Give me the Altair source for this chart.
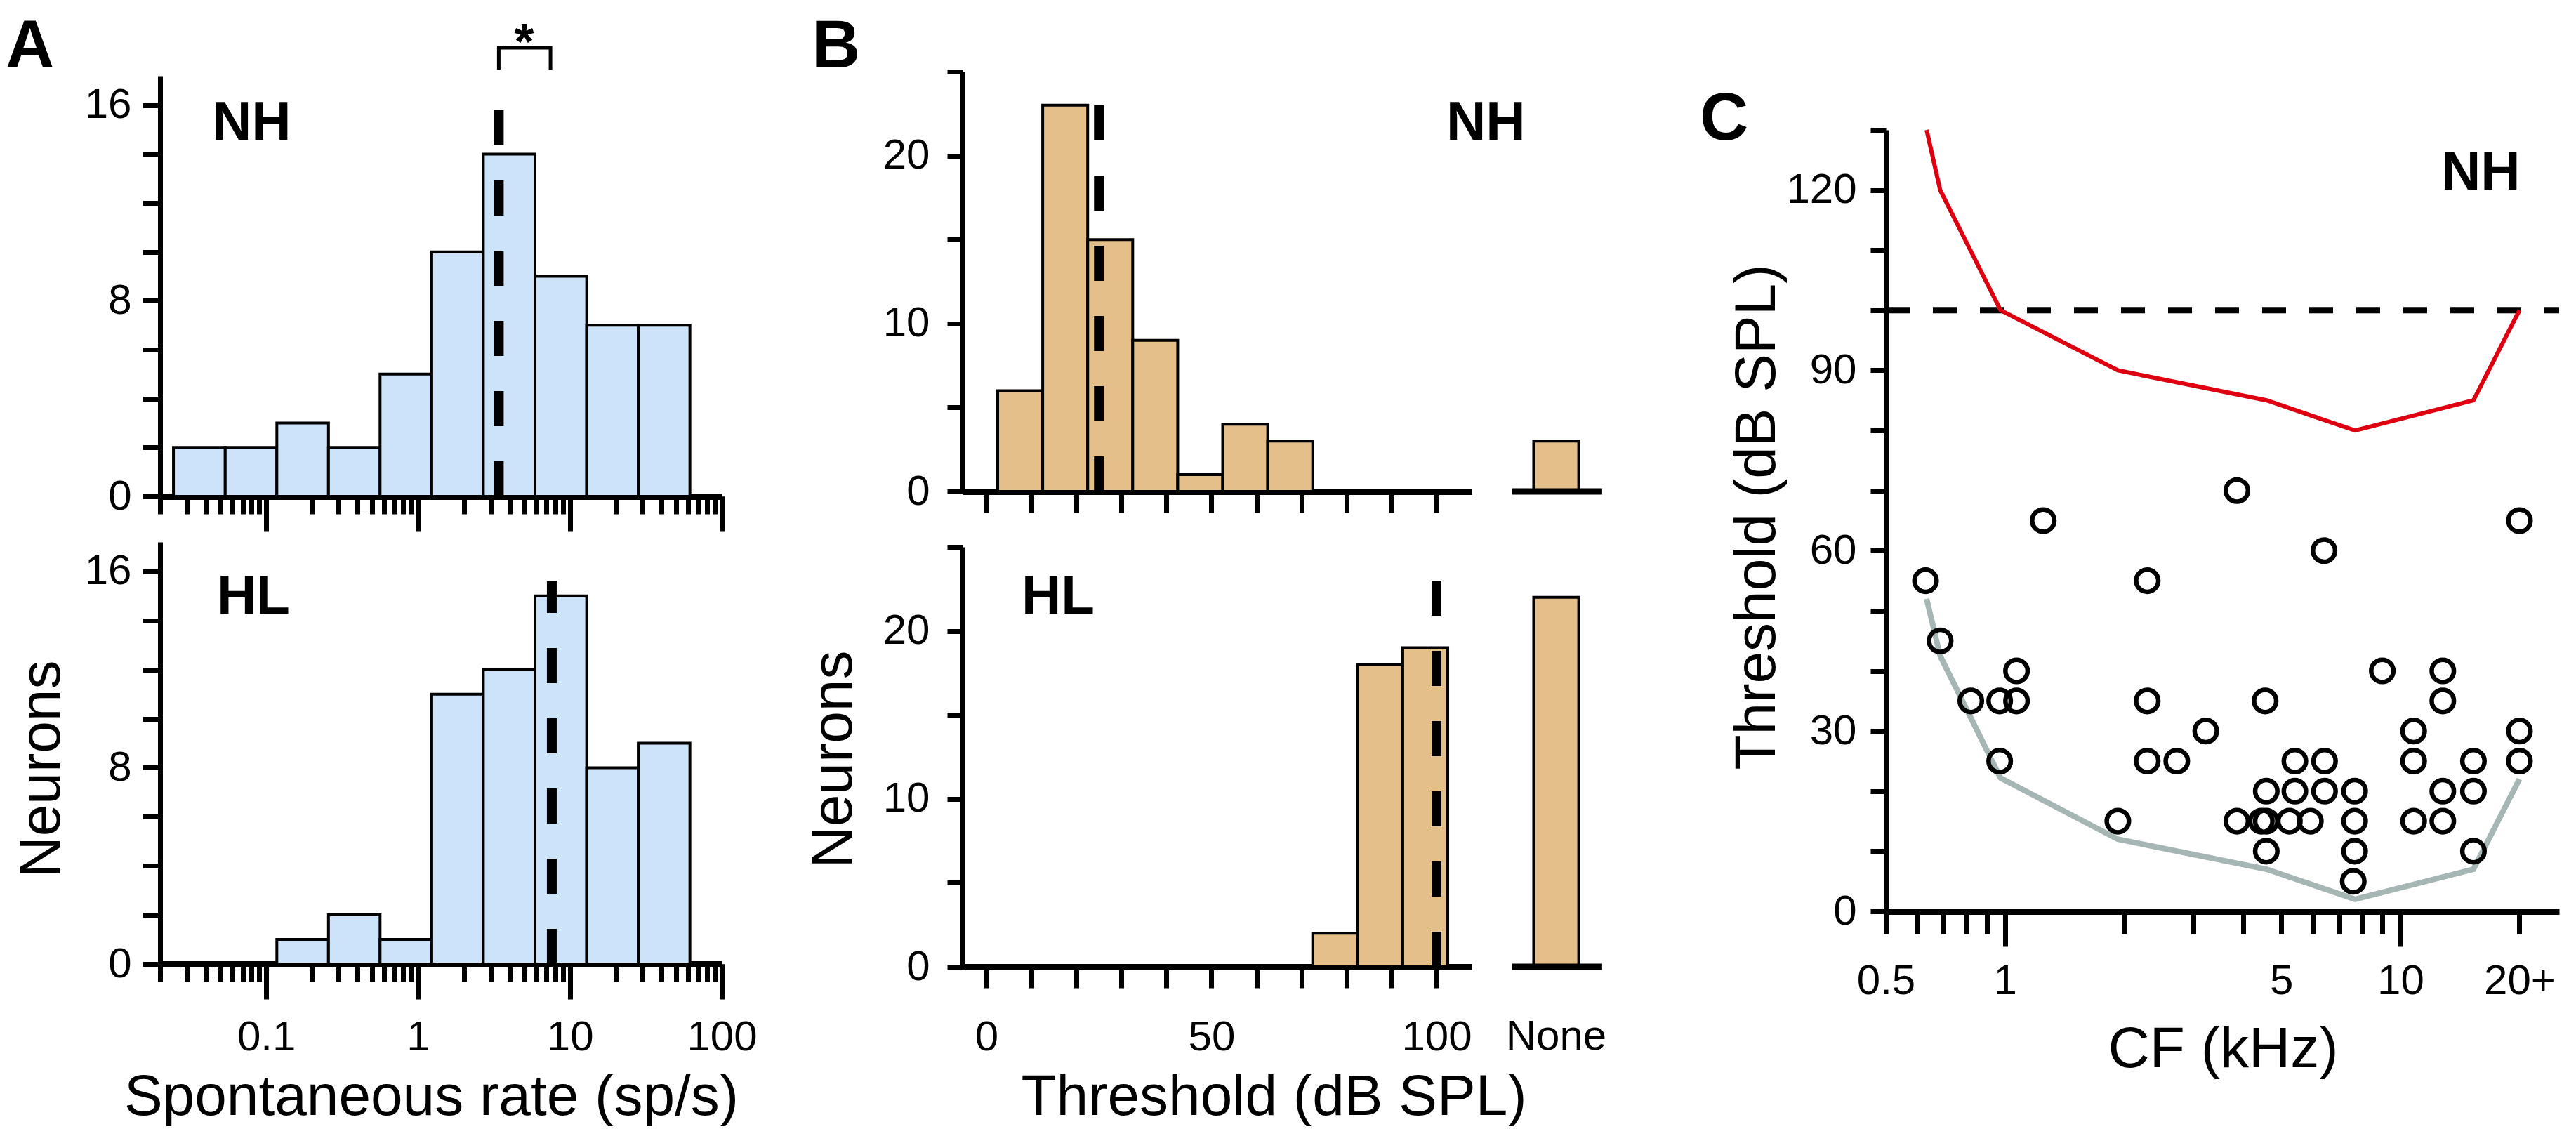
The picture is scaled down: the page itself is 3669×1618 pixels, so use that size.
import altair as alt
import pandas as pd

W, H = 3650, 1596
FONT = "Liberation Sans"

# ---------------- data ----------------
# Panel A: spontaneous rate histogram (log-spaced bins, sp/s)
rate_bin_edges = [0.0245, 0.0537, 0.1175, 0.257, 0.562, 1.23, 2.69, 5.89, 12.9, 28.2, 61.7]
rate_counts_nh = [2, 2, 3, 2, 5, 10, 14, 9, 7, 7]
rate_counts_hl = [0, 0, 1, 2, 1, 11, 12, 15, 8, 9]
rate_median_nh, rate_median_top_nh = 3.4, 15.8
rate_median_hl, rate_median_top_hl = 7.6, 15.6
rate_minor_ticks = [0.02, 0.03, 0.04, 0.05, 0.06, 0.07, 0.08, 0.09,
                    0.1, 0.2, 0.3, 0.4, 0.5, 0.6, 0.7, 0.8, 0.9,
                    1, 2, 3, 4, 5, 6, 7, 8, 9,
                    10, 20, 30, 40, 50, 60, 70, 80, 90, 100]
rate_major_ticks = [0.1, 1, 10, 100]
count_ticks_a = [0, 2, 4, 6, 8, 10, 12, 14, 16]

# Panel B: threshold histogram (dB SPL)
thr_bin_edges = [2.5, 12.5, 22.5, 32.5, 42.5, 52.5, 62.5, 72.5, 82.5, 92.5, 102.5]
thr_counts_nh = [6, 23, 15, 9, 1, 4, 3, 0, 0, 0]
thr_counts_hl = [0, 0, 0, 0, 0, 0, 0, 2, 18, 19]
none_bin = [121.6, 131.6]
none_count_nh = 3
none_count_hl = 22
none_label_pos = 126.6
none_axis_segment = [116.8, 136.8]
thr_median_nh, thr_median_top_nh = 25, 25
thr_median_hl, thr_median_top_hl = 100, 23
thr_ticks = [0, 10, 20, 30, 40, 50, 60, 70, 80, 90, 100]
count_ticks_b = [0, 5, 10, 15, 20, 25]

# Panel C: threshold vs CF (NH)
cf_khz = [0.63, 0.686, 0.82, 0.97, 1.07, 1.07, 0.97, 1.25,
          2.29, 2.29, 2.29, 2.72, 1.93, 3.22, 3.86,
          3.86, 4.45, 4.58, 4.58, 4.55, 4.58,
          5.24, 5.41, 5.41, 5.92, 6.43, 6.43, 6.41,
          7.66, 7.66, 7.66, 7.6, 9.0,
          10.8, 10.8, 10.8, 12.8, 12.8, 12.8, 12.8,
          15.3, 15.3, 15.3, 20, 20, 20]
thr_db = [55, 45, 35, 35, 35, 40, 25, 65,
          55, 35, 25, 25, 15, 30, 70,
          15, 15, 15, 20, 35, 10,
          15, 20, 25, 15, 25, 20, 60,
          20, 15, 10, 5, 40,
          30, 25, 15, 40, 35, 20, 15,
          25, 20, 10, 30, 25, 65]
curve_cf = [0.634, 0.686, 0.975, 1.93, 4.59, 7.68, 15.3, 20]
curve_red = [130, 120, 100, 90, 85, 80, 85, 100]
curve_gray = [52, 42.5, 22.2, 12, 7, 2, 7, 22]
cf_minor_ticks = [0.5, 0.6, 0.7, 0.8, 0.9, 1, 2, 3, 4, 5, 6, 7, 8, 9, 10, 20]
cf_major_ticks = [1, 10]
thr_ticks_c = [0, 10, 20, 30, 40, 50, 60, 70, 80, 90, 100, 110, 120, 130]
ceiling_db = 100

BLUE = "#cce3f9"
TAN = "#e5bf8a"
RED = "#de0010"
GRAY = "#a6b6b5"


# ---------------- helpers ----------------
def lin(domain, rng):
    return alt.Scale(type="linear", domain=domain, range=rng, zero=False, nice=False)


def logs(domain, rng):
    return alt.Scale(type="log", domain=domain, range=rng, nice=False)


COMMON = dict(grid=False, tickColor="black", domainColor="black",
              labelFont=FONT, labelFontSize=60, labelColor="black",
              labelFlush=False, labelOverlap=False,
              titleFont=FONT, titleFontSize=82, titleFontWeight="normal",
              titleColor="black")


def xaxis(offset, values, tick, domain=True, label_expr=None, pad=0,
          title=None, tx=None, ty=None):
    kw = dict(COMMON)
    kw.update(orient="bottom", offset=offset, values=values, tickSize=tick,
              tickWidth=7, domain=domain, domainWidth=9)
    if label_expr is None:
        kw["labels"] = False
    else:
        kw.update(labels=True, labelExpr=label_expr, labelPadding=pad,
                  labelBaseline="top", labelAlign="center")
    if title is None:
        kw["title"] = None
    else:
        kw.update(title=title, titleX=tx, titleY=ty, titleAngle=0,
                  titleBaseline="alphabetic", titleAlign="center")
    return alt.Axis(**kw)


def yaxis(offset, values, tick, label_expr, pad, title=None, tx=None, ty=None):
    kw = dict(COMMON)
    kw.update(orient="left", offset=offset, values=values, tickSize=tick,
              tickWidth=7, domain=True, domainWidth=7, labels=True,
              labelExpr=label_expr, labelPadding=pad)
    if title is None:
        kw["title"] = None
    else:
        kw.update(title=title, titleX=tx, titleY=ty, titleAngle=270,
                  titleBaseline="alphabetic", titleAlign="center")
    return alt.Axis(**kw)


def hist(edges, counts, xs, ys, fill, xax, yax):
    df = pd.DataFrame({"lo": edges[:-1], "hi": edges[1:], "n": counts})
    df = df[df.n > 0]
    return alt.Chart(df).mark_rect(fill=fill, stroke="black", strokeWidth=4).encode(
        x=alt.X("lo:Q", scale=xs, axis=xax),
        x2="hi:Q",
        y=alt.Y("n:Q", scale=ys, axis=yax),
        y2=alt.datum(0),
    )


def median_rule(m, top, xs, ys, xax):
    df = pd.DataFrame({"m": [m], "b": [0], "t": [top]})
    return alt.Chart(df).mark_rule(color="black", strokeWidth=14,
                                   strokeDash=[50, 50]).encode(
        x=alt.X("m:Q", scale=xs, axis=xax),
        y=alt.Y("b:Q", scale=ys, axis=None),
        y2="t:Q",
    )


def label(text, x, y, size, weight="bold", baseline="alphabetic", align="left"):
    return alt.Chart(alt.Data(values=[{}])).mark_text(
        text=text, font=FONT, fontSize=size, fontWeight=weight, color="black",
        baseline=baseline, align=align).encode(x=alt.value(x), y=alt.value(y))


layers = []

# ---------------- Panel A ----------------
AXS = logs([0.02, 100], [220, 1020])
A_NH_Y = lin([0, 17.2], [699, 100])
A_HL_Y = lin([0, 17.2], [1365, 764])
a_ylab = "datum.value % 8 == 0 ? datum.label : ''"
a_xlab = ("datum.value == 0.1 ? '0.1' : datum.value == 1 ? '1' : "
          "datum.value == 10 ? '10' : datum.value == 100 ? '100' : ''")

layers.append(hist(rate_bin_edges, rate_counts_nh, AXS, A_NH_Y, BLUE,
                   xaxis(699 - H, rate_minor_ticks, 25),
                   yaxis(-220, count_ticks_a, 25, a_ylab, 16)))
layers.append(median_rule(rate_median_nh, rate_median_top_nh, AXS, A_NH_Y,
                          xaxis(699 - H, rate_major_ticks, 50, domain=False)))
# significance bracket between the medians
br = pd.DataFrame({"x": [rate_median_nh, rate_median_nh, 7.45, 7.45],
                   "y": [17.45, 18.35, 18.35, 17.45], "i": [0, 1, 2, 3]})
layers.append(alt.Chart(br).mark_line(color="black", strokeWidth=5).encode(
    x=alt.X("x:Q", scale=AXS, axis=None), y=alt.Y("y:Q", scale=A_NH_Y, axis=None),
    order="i:Q"))
star = pd.DataFrame({"x": [5.0], "y": [17.9]})
layers.append(alt.Chart(star).mark_text(text="*", font=FONT, fontSize=72,
                                        fontWeight="bold", baseline="alphabetic",
                                        align="center", color="black").encode(
    x=alt.X("x:Q", scale=AXS, axis=None), y=alt.Y("y:Q", scale=A_NH_Y, axis=None)))

layers.append(hist(rate_bin_edges, rate_counts_hl, AXS, A_HL_Y, BLUE,
                   xaxis(1365 - H, rate_minor_ticks, 25),
                   yaxis(-220, count_ticks_a, 25, a_ylab, 16,
                         title="Neurons", tx=-144, ty=1087)))
layers.append(median_rule(rate_median_hl, rate_median_top_hl, AXS, A_HL_Y,
                          xaxis(1365 - H, rate_major_ticks, 50, domain=False,
                                label_expr=a_xlab, pad=25,
                                title="Spontaneous rate (sp/s)", tx=606, ty=214)))

# ---------------- Panel B ----------------
BXS = lin([-5.3, 107.8], [1363, 2088])
B_NH_Y = lin([0, 25], [692, 94])
B_HL_Y = lin([0, 25], [1369, 771])
b_ylab = "datum.value % 10 == 0 ? datum.label : ''"
b_xlab = "datum.value % 50 == 0 ? datum.label : ''"


def none_parts(count, ys):
    seg = pd.DataFrame({"a": [none_axis_segment[0]], "b": [none_axis_segment[1]], "y": [0]})
    rule = alt.Chart(seg).mark_rule(color="black", strokeWidth=9).encode(
        x=alt.X("a:Q", scale=BXS, axis=None), x2="b:Q",
        y=alt.Y("y:Q", scale=ys, axis=None))
    bar = hist(none_bin, [count], BXS, ys, TAN, None, None)
    return [bar, rule]


layers.append(hist(thr_bin_edges, thr_counts_nh, BXS, B_NH_Y, TAN,
                   xaxis(692 - H, thr_ticks, 30),
                   yaxis(-1363, count_ticks_b, 22, b_ylab, 25)))
layers += none_parts(none_count_nh, B_NH_Y)
layers.append(median_rule(thr_median_nh, thr_median_top_nh, BXS, B_NH_Y, None))

layers.append(hist(thr_bin_edges, thr_counts_hl, BXS, B_HL_Y, TAN,
                   xaxis(1369 - H, thr_ticks, 30, label_expr=b_xlab, pad=41,
                         title="Threshold (dB SPL)", tx=1806, ty=210),
                   yaxis(-1363, count_ticks_b, 22, b_ylab, 25,
                         title="Neurons", tx=-159, ty=1073)))
layers += none_parts(none_count_hl, B_HL_Y)
layers.append(median_rule(thr_median_hl, thr_median_top_hl, BXS, B_HL_Y, None))
nl = pd.DataFrame({"p": [none_label_pos]})
layers.append(alt.Chart(nl).mark_text(text="None", font=FONT, fontSize=60,
                                      baseline="top", align="center",
                                      color="black").encode(
    x=alt.X("p:Q", scale=BXS, axis=None), y=alt.value(1440)))

# ---------------- Panel C ----------------
CXS = logs([0.5, 25.2], [2678, 3637])
C_Y = lin([0, 130], [1290, 177])
c_xlab = ("datum.value == 0.5 ? '0.5' : datum.value == 1 ? '1' : "
          "datum.value == 5 ? '5' : datum.value == 10 ? '10' : "
          "datum.value == 20 ? '\u00a0\u00a0\u00a020+' : ''")
c_ylab = "datum.value % 30 == 0 && datum.value <= 120 ? datum.label : ''"

ceil = pd.DataFrame({"a": [0.5], "b": [25.2], "y": [ceiling_db]})
layers.append(alt.Chart(ceil).mark_rule(color="black", strokeWidth=9,
                                        strokeDash=[34, 33]).encode(
    x=alt.X("a:Q", scale=CXS, axis=None), x2="b:Q",
    y=alt.Y("y:Q", scale=C_Y, axis=None)))

curves = pd.DataFrame({"cf": curve_cf, "red": curve_red, "gray": curve_gray})
layers.append(alt.Chart(curves).mark_line(color=GRAY, strokeWidth=8).encode(
    x=alt.X("cf:Q", scale=CXS, axis=None),
    y=alt.Y("gray:Q", scale=C_Y, axis=None)))
layers.append(alt.Chart(curves).mark_line(color=RED, strokeWidth=6).encode(
    x=alt.X("cf:Q", scale=CXS, axis=xaxis(1290 - H, cf_major_ticks, 50, domain=False)),
    y=alt.Y("red:Q", scale=C_Y, axis=None)))

pts = pd.DataFrame({"cf": cf_khz, "thr": thr_db})
layers.append(alt.Chart(pts).mark_point(shape="circle", filled=False, color="black",
                                        strokeWidth=6.5, size=1000, opacity=1).encode(
    x=alt.X("cf:Q", scale=CXS,
            axis=xaxis(1290 - H, cf_minor_ticks, 32, label_expr=c_xlab, pad=38,
                       title="CF (kHz)", tx=3158, ty=221)),
    y=alt.Y("thr:Q", scale=C_Y,
            axis=yaxis(-2678, thr_ticks_c, 22, c_ylab, 20,
                       title="Threshold (dB SPL)", tx=-159, ty=728))))

# ---------------- panel letters and group labels ----------------
layers += [
    label("A", 0, 88, 96),
    label("B", 1148, 88, 96),
    label("C", 2413, 191, 96),
    label("NH", 294, 191, 78),
    label("HL", 301, 866, 78),
    label("NH", 2052, 191, 78),
    label("HL", 1447, 866, 78),
    label("NH", 3469, 262, 78),
]

chart = (
    alt.layer(*layers)
    .resolve_scale(x="independent", y="independent")
    .resolve_axis(x="independent", y="independent")
    .properties(width=W, height=H, padding=0,
                autosize=alt.AutoSizeParams(type="none"))
    .configure_view(stroke=None)
)

chart.save("out.html", embed_options={"renderer": "svg", "actions": False})
